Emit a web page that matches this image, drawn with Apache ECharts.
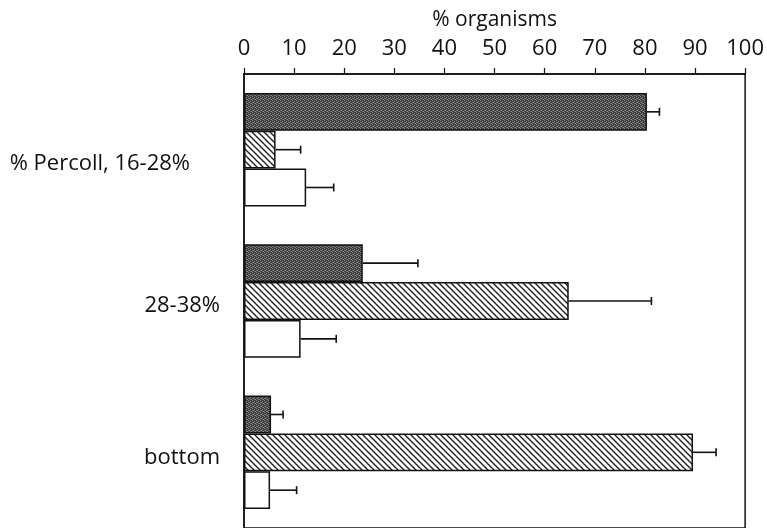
<!DOCTYPE html>
<html>
<head>
<meta charset="utf-8">
<script src="https://cdn.jsdelivr.net/npm/echarts@6/dist/echarts.min.js"></script>
<style>
html,body{margin:0;padding:0;background:#fff;}
#chart{width:767px;height:528px;}
</style>
</head>
<body>
<div id="chart"></div>
<script>
// ---- data ----
var categories = ['% Percoll, 16-28%', '28-38%', 'bottom'];
var darkValues  = [80.4, 23.7, 5.4];
var hatchValues = [6.3, 64.8, 89.6];
var whiteValues = [12.4, 11.3, 5.2];
var darkErrors  = [2.5, 11.0, 2.4];
var hatchErrors = [5.0, 16.5, 4.6];
var whiteErrors = [5.5, 7.1, 5.3];
var xTicks = [0, 10, 20, 30, 40, 50, 60, 70, 80, 90, 100];
var xTitle = '% organisms';

// ---- patterns ----
function makeStipple() {
  var c = document.createElement('canvas');
  c.width = 4; c.height = 4;
  var g = c.getContext('2d');
  g.fillStyle = '#3c3c3c';
  g.fillRect(0, 0, 4, 4);
  g.fillStyle = '#8a8a8a';
  g.fillRect(0, 0, 1, 1);
  g.fillRect(2, 1, 1, 1);
  g.fillRect(1, 2, 1, 1);
  g.fillRect(3, 3, 1, 1);
  g.fillStyle = '#6a6a6a';
  g.fillRect(2, 3, 1, 1);
  g.fillRect(0, 2, 1, 1);
  return c;
}
function makeHatch() {
  var s = 6;
  var c = document.createElement('canvas');
  c.width = s; c.height = s;
  var g = c.getContext('2d');
  g.fillStyle = '#ffffff';
  g.fillRect(0, 0, s, s);
  g.strokeStyle = '#222';
  g.lineWidth = 1.4;
  g.beginPath();
  for (var k = -1; k <= 1; k++) {
    g.moveTo(k * s - 1, -1);
    g.lineTo(k * s + s + 1, s + 1);
  }
  g.stroke();
  return c;
}

var chart = echarts.init(document.getElementById('chart'), null, {renderer: 'canvas'});
var FONT = '"Open Sans", "Noto Sans", sans-serif';

var seriesVals = [darkValues, hatchValues, whiteValues];
var seriesErrs = [darkErrors, hatchErrors, whiteErrors];
var barCatGap = 0.25;

function errRender(si) {
  return function (params, api) {
    var ci = api.value(0);
    var v = api.value(1);
    var e = api.value(2);
    var p0 = api.coord([v, ci]);
    var p1 = api.coord([v + e, ci]);
    var band = api.size([0, 1])[1];
    var bw = band * (1 - barCatGap) / 3;
    var y = p0[1] + (si - 1) * bw;
    var style = {stroke: '#111', lineWidth: 1.6};
    return {
      type: 'group',
      children: [
        {type: 'line', shape: {x1: p0[0], y1: y, x2: p1[0], y2: y}, style: style},
        {type: 'line', shape: {x1: p1[0], y1: y - 4, x2: p1[0], y2: y + 4}, style: style}
      ]
    };
  };
}

var fills = [
  {image: makeStipple(), repeat: 'repeat'},
  {image: makeHatch(), repeat: 'repeat'},
  '#ffffff'
];

var series = [];
for (var i = 0; i < 3; i++) {
  series.push({
    type: 'bar',
    data: seriesVals[i],
    barGap: '0%',
    barCategoryGap: (barCatGap * 100) + '%',
    itemStyle: {color: fills[i], borderColor: '#111', borderWidth: 1.5},
    silent: true,
    animation: false
  });
}
for (var j = 0; j < 3; j++) {
  series.push({
    type: 'custom',
    renderItem: errRender(j),
    data: categories.map(function (c, k) { return [k, seriesVals[j][k], seriesErrs[j][k]]; }),
    encode: {y: 0, x: [1, 2]},
    z: 5,
    silent: true,
    animation: false
  });
}

chart.setOption({
  backgroundColor: '#ffffff',
  animation: false,
  grid: {
    left: 244, right: 19, top: 74, bottom: -2,
    show: true, borderColor: '#111', borderWidth: 1.5, backgroundColor: 'transparent'
  },
  xAxis: {
    type: 'value',
    position: 'top',
    min: xTicks[0], max: xTicks[xTicks.length - 1], interval: 10,
    name: xTitle,
    nameLocation: 'middle',
    nameGap: 43,
    nameTextStyle: {color: '#111', fontSize: 21, fontFamily: FONT},
    axisLine: {show: true, lineStyle: {color: '#111', width: 1.5}},
    axisTick: {show: true, inside: false, length: 6, lineStyle: {color: '#111', width: 1.2}},
    axisLabel: {color: '#111', fontSize: 22, fontFamily: FONT, margin: 14},
    splitLine: {show: false}
  },
  yAxis: {
    type: 'category',
    data: categories,
    inverse: true,
    axisLine: {show: true, lineStyle: {color: '#111', width: 1.5}},
    axisTick: {show: false},
    axisLabel: {
      color: '#111', fontSize: 22, fontFamily: FONT, margin: 24,
      formatter: function (v, idx) {
        return idx === 0 ? '{a|' + v + '}' : '{b|' + v + '}';
      },
      rich: {
        a: {fontSize: 22, fontFamily: FONT, color: '#111', padding: [28, 30, 0, 0]},
        b: {fontSize: 22, fontFamily: FONT, color: '#111', padding: [10, 0, 0, 0]}
      }
    },
    splitLine: {show: false}
  },
  series: series
});
</script>
</body>
</html>
